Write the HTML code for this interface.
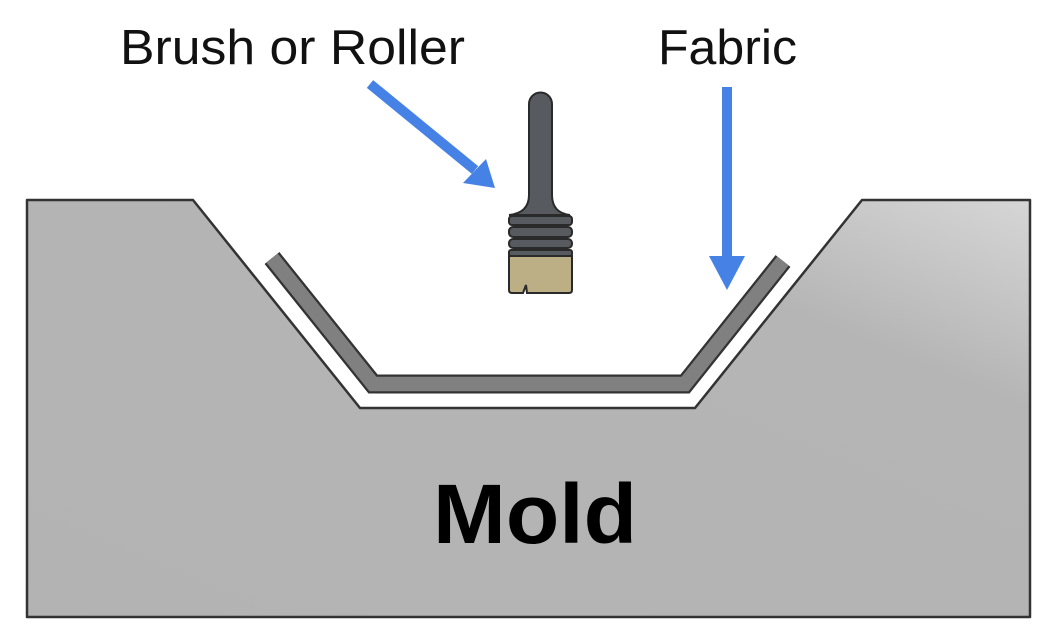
<!DOCTYPE html>
<html><head><style>html,body{margin:0;padding:0;background:#fff;}svg{display:block;}</style></head>
<body>
<svg width="1055" height="644" viewBox="0 0 1055 644" xmlns="http://www.w3.org/2000/svg">
<defs>
<linearGradient id="g" x1="0" y1="1" x2="1" y2="0">
<stop offset="0" stop-color="#b3b3b3"/><stop offset="0.75" stop-color="#b5b5b5"/><stop offset="1" stop-color="#d6d6d6"/>
</linearGradient>
</defs>
<polygon points="27,200 193,200 360,408 695,408 862,200 1030,200 1030,617 27,617" fill="url(#g)" stroke="#333" stroke-width="2.5" stroke-linejoin="round"/>
<polyline points="272,258 373,384 685,384 783,261" fill="none" stroke="#333" stroke-width="19" stroke-linejoin="miter"/>
<polyline points="272,258 373,384 685,384 783,261" fill="none" stroke="#808080" stroke-width="14.5" stroke-linejoin="miter"/>
<!-- brush -->
<path d="M529,104 a11.5,11.5 0 0 1 23,0 V195 q0,18 18,20 H509 q20,-2 20,-20 Z" fill="#575b60" stroke="#2a2a2a" stroke-width="2"/>
<rect x="509" y="216" width="63" height="9" rx="3" fill="#575b60" stroke="#2a2a2a" stroke-width="2"/>
<rect x="509" y="227" width="63" height="10" rx="4" fill="#575b60" stroke="#2a2a2a" stroke-width="2"/>
<rect x="509" y="239" width="63" height="9" rx="4" fill="#575b60" stroke="#2a2a2a" stroke-width="2"/>
<rect x="509" y="250" width="63" height="6" rx="2" fill="#575b60" stroke="#2a2a2a" stroke-width="2"/>
<path d="M509,256 H572 V290 q0,3 -3,3 H527 l-1,-8 l-3,8 H512 q-3,0 -3,-3 Z" fill="#bcaf85" stroke="#2a2a2a" stroke-width="2"/>
<!-- arrows -->
<line x1="370" y1="84" x2="475" y2="170" stroke="#4682e6" stroke-width="10"/>
<polygon points="495,188 463,183 486,159" fill="#4682e6"/>
<line x1="727" y1="87" x2="727" y2="258" stroke="#4682e6" stroke-width="10"/>
<polygon points="709,256 745,256 727,290" fill="#4682e6"/>
<text x="120" y="64" font-family="Liberation Sans, sans-serif" font-size="49" fill="#111" textLength="345" lengthAdjust="spacingAndGlyphs">Brush or Roller</text>
<text x="658" y="64" font-family="Liberation Sans, sans-serif" font-size="49" fill="#111" textLength="139" lengthAdjust="spacingAndGlyphs">Fabric</text>
<text x="433" y="543" font-family="Liberation Sans, sans-serif" font-size="84" font-weight="bold" fill="#000" textLength="204" lengthAdjust="spacingAndGlyphs">Mold</text>
</svg>
</body></html>
